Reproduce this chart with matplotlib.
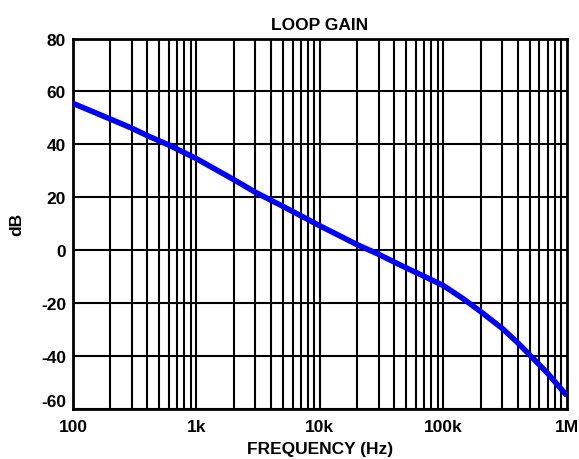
import matplotlib
matplotlib.use('Agg')
import matplotlib.pyplot as plt

plt.rcParams['font.family'] = ['Liberation Sans', 'DejaVu Sans']
plt.rcParams['font.weight'] = 'bold'
plt.rcParams['axes.unicode_minus'] = False

freq = [100, 200, 300, 400, 600, 1e3, 2e3, 3e3, 4e3, 5e3, 1e4, 2e4, 3e4, 4e4, 5e4,
        7e4, 1e5, 1.45e5, 2e5, 3e5, 4e5, 5e5, 7e5, 1e6]
gain = [55.5, 49.6, 46.1, 43.3, 39.7, 34.6, 26.7, 21.9, 18.9, 16.6, 9.2, 2.1, -1.6, -4.5, -6.7,
        -9.9, -13.4, -18.4, -23.2, -29.6, -35.0, -39.6, -46.6, -55]

xticks = [100, 1e3, 1e4, 1e5, 1e6]
xlabels = ['100', '1k', '10k', '100k', '1M']
yticks = [-60, -40, -20, 0, 20, 40, 60, 80]

fig = plt.figure(figsize=(5.79, 4.6), dpi=100)
ax = fig.add_axes([0.126, 0.109, 0.853, 0.805])

# log grid: every 1..9 in each decade
for dec in [100, 1e3, 1e4, 1e5]:
    for m in range(1, 10):
        ax.axvline(dec * m, color='black', lw=1.5, zorder=1)
for y in yticks:
    ax.axhline(y, color='black', lw=1.5, zorder=1)

ax.plot(freq, gain, color='#0000ff', lw=4, zorder=3, solid_capstyle='butt')

ax.set_xscale('log')
ax.set_xlim(100, 1e6)
ax.set_ylim(-60, 80)
ax.set_xticks(xticks)
ax.set_xticklabels(xlabels)
ax.minorticks_off()
ax.set_yticks(yticks)
ax.tick_params(length=0, labelsize=12.5)
ax.tick_params(axis='x', pad=7)
ax.tick_params(axis='y', pad=5)
for lab in ax.get_xticklabels() + ax.get_yticklabels():
    lab.set_fontweight('bold')
ax.get_yticklabels()[0].set_va('bottom')

for s in ax.spines.values():
    s.set_linewidth(2)

ax.set_title('LOOP GAIN', fontsize=12.5, fontweight='bold', pad=7)
ax.set_xlabel('FREQUENCY (Hz)', fontsize=12.5, fontweight='bold', labelpad=5)
ax.set_ylabel('dB', fontsize=12.5, fontweight='bold', labelpad=12)

fig.savefig('out.png', dpi=100)
